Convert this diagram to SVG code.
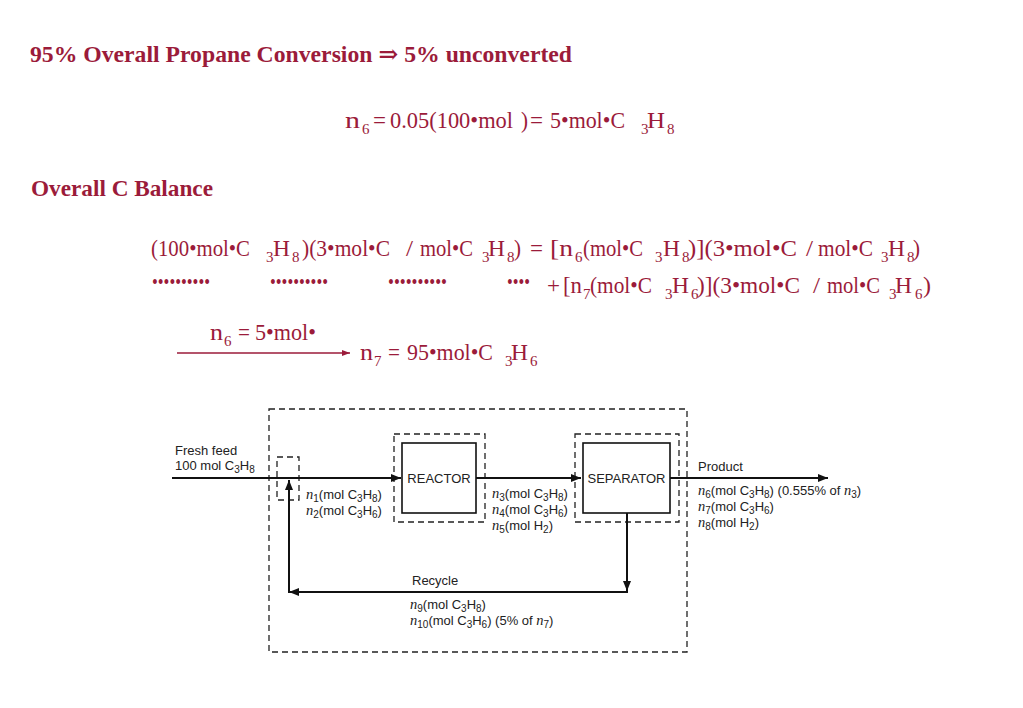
<svg xmlns="http://www.w3.org/2000/svg" width="1023" height="708" viewBox="0 0 1023 708">
<style>
.hd{font-family:"Liberation Serif","DejaVu Serif",serif;font-weight:bold;fill:#9b1b3a}
.eq{font-family:"Liberation Serif","DejaVu Serif",serif;font-size:24px;fill:#9b1b3a}
.sb{font-family:"Liberation Serif","DejaVu Serif",serif;font-size:15px;fill:#9b1b3a}
.dt{font-family:"Liberation Serif","DejaVu Serif",serif;font-size:20px;fill:#9b1b3a}
.lbl{font-family:"Liberation Sans",Arial,sans-serif;font-size:13px;fill:#222}
.it{font-family:"Liberation Serif",serif;font-style:italic;font-size:14.5px}
.s{font-size:10px}
.dash{fill:none;stroke:#222;stroke-width:1.3;stroke-dasharray:6 4}
.box{fill:#fff;stroke:#111;stroke-width:1.6}
.ln{fill:none;stroke:#111;stroke-width:2}
.arw{stroke:#9b1b3a;stroke-width:1.3;fill:none}
</style>
<defs>
<marker id="ah" markerUnits="userSpaceOnUse" markerWidth="10" markerHeight="8" refX="10" refY="4" orient="auto">
<path d="M0,0 L10,4 L0,8 z" fill="#111"/>
</marker>
<marker id="ahr" markerUnits="userSpaceOnUse" markerWidth="8" markerHeight="6" refX="8" refY="3" orient="auto">
<path d="M0,0 L8,3 L0,6 z" fill="#9b1b3a"/>
</marker>
</defs>
<rect width="1023" height="708" fill="#fff"/>

<g id="title">
<text class="hd" x="30" y="62" font-size="23.5" textLength="542" lengthAdjust="spacingAndGlyphs">95% Overall Propane Conversion ⇒ 5% unconverted</text>
</g>

<g id="eq-n6">
<text class="eq" x="345" y="128" textLength="15" lengthAdjust="spacingAndGlyphs">n</text>
<text class="sb" x="362" y="134">6</text>
<text class="eq" x="373" y="128" textLength="13" lengthAdjust="spacingAndGlyphs">=</text>
<text class="eq" x="390" y="128" textLength="123" lengthAdjust="spacingAndGlyphs">0.05(100•mol</text>
<text class="eq" x="521" y="128" textLength="7" lengthAdjust="spacingAndGlyphs">)</text>
<text class="eq" x="530" y="128" textLength="13" lengthAdjust="spacingAndGlyphs">=</text>
<text class="eq" x="550" y="128" textLength="75" lengthAdjust="spacingAndGlyphs">5•mol•C</text>
<text class="sb" x="641" y="134">3</text>
<text class="eq" x="647" y="128" textLength="18" lengthAdjust="spacingAndGlyphs">H</text>
<text class="sb" x="667" y="134">8</text>
</g>

<g id="heading-c">
<text class="hd" x="31" y="196" font-size="23" textLength="182" lengthAdjust="spacingAndGlyphs">Overall C Balance</text>
</g>

<g id="eq-balance-1">
<text class="eq" x="151" y="256" textLength="99" lengthAdjust="spacingAndGlyphs">(100•mol•C</text>
<text class="sb" x="266" y="262">3</text>
<text class="eq" x="273" y="256" textLength="17" lengthAdjust="spacingAndGlyphs">H</text>
<text class="sb" x="292" y="262">8</text>
<text class="eq" x="302" y="256" textLength="88" lengthAdjust="spacingAndGlyphs">)(3•mol•C</text>
<text class="eq" x="406" y="256" textLength="7" lengthAdjust="spacingAndGlyphs">/</text>
<text class="eq" x="420" y="256" textLength="53" lengthAdjust="spacingAndGlyphs">mol•C</text>
<text class="sb" x="482" y="262">3</text>
<text class="eq" x="488" y="256" textLength="17" lengthAdjust="spacingAndGlyphs">H</text>
<text class="sb" x="507" y="262">8</text>
<text class="eq" x="514" y="256" textLength="7" lengthAdjust="spacingAndGlyphs">)</text>
<text class="eq" x="530" y="256" textLength="13" lengthAdjust="spacingAndGlyphs">=</text>
<text class="eq" x="550" y="256" textLength="23" lengthAdjust="spacingAndGlyphs">[n</text>
<text class="sb" x="575" y="262">6</text>
<text class="eq" x="583" y="256" textLength="60" lengthAdjust="spacingAndGlyphs">(mol•C</text>
<text class="sb" x="655" y="262">3</text>
<text class="eq" x="663" y="256" textLength="17" lengthAdjust="spacingAndGlyphs">H</text>
<text class="sb" x="682" y="262">8</text>
<text class="eq" x="688" y="256" textLength="109" lengthAdjust="spacingAndGlyphs">)](3•mol•C</text>
<text class="eq" x="806" y="256" textLength="7" lengthAdjust="spacingAndGlyphs">/</text>
<text class="eq" x="818" y="256" textLength="55" lengthAdjust="spacingAndGlyphs">mol•C</text>
<text class="sb" x="881" y="262">3</text>
<text class="eq" x="888" y="256" textLength="17" lengthAdjust="spacingAndGlyphs">H</text>
<text class="sb" x="907" y="262">8</text>
<text class="eq" x="913" y="256" textLength="7" lengthAdjust="spacingAndGlyphs">)</text>
</g>

<g id="eq-balance-2">
<text class="dt" x="152" y="289" textLength="58" lengthAdjust="spacingAndGlyphs">••••••••••</text>
<text class="dt" x="270" y="289" textLength="58" lengthAdjust="spacingAndGlyphs">••••••••••</text>
<text class="dt" x="388" y="289" textLength="59" lengthAdjust="spacingAndGlyphs">••••••••••</text>
<text class="dt" x="507" y="289" textLength="23" lengthAdjust="spacingAndGlyphs">••••</text>
<text class="eq" x="547" y="293" textLength="13" lengthAdjust="spacingAndGlyphs">+</text>
<text class="eq" x="563" y="293" textLength="19" lengthAdjust="spacingAndGlyphs">[n</text>
<text class="sb" x="583" y="299">7</text>
<text class="eq" x="590" y="293" textLength="62" lengthAdjust="spacingAndGlyphs">(mol•C</text>
<text class="sb" x="665" y="299">3</text>
<text class="eq" x="672" y="293" textLength="17" lengthAdjust="spacingAndGlyphs">H</text>
<text class="sb" x="691" y="299">6</text>
<text class="eq" x="697" y="293" textLength="103" lengthAdjust="spacingAndGlyphs">)](3•mol•C</text>
<text class="eq" x="813" y="293" textLength="7" lengthAdjust="spacingAndGlyphs">/</text>
<text class="eq" x="827" y="293" textLength="53" lengthAdjust="spacingAndGlyphs">mol•C</text>
<text class="sb" x="889" y="299">3</text>
<text class="eq" x="895" y="293" textLength="17" lengthAdjust="spacingAndGlyphs">H</text>
<text class="sb" x="915" y="299">6</text>
<text class="eq" x="923" y="293" textLength="8" lengthAdjust="spacingAndGlyphs">)</text>
</g>

<g id="eq-result">
<text class="eq" x="210" y="340" textLength="13" lengthAdjust="spacingAndGlyphs">n</text>
<text class="sb" x="224" y="346">6</text>
<text class="eq" x="238" y="340" textLength="12" lengthAdjust="spacingAndGlyphs">=</text>
<text class="eq" x="255" y="340" textLength="61" lengthAdjust="spacingAndGlyphs">5•mol•</text>
<line class="arw" x1="177" y1="353" x2="350" y2="353" marker-end="url(#ahr)"/>
<text class="eq" x="360" y="360" textLength="13" lengthAdjust="spacingAndGlyphs">n</text>
<text class="sb" x="374" y="366">7</text>
<text class="eq" x="388" y="360" textLength="12" lengthAdjust="spacingAndGlyphs">=</text>
<text class="eq" x="407" y="360" textLength="86" lengthAdjust="spacingAndGlyphs">95•mol•C</text>
<text class="sb" x="505" y="366">3</text>
<text class="eq" x="511" y="360" textLength="17" lengthAdjust="spacingAndGlyphs">H</text>
<text class="sb" x="530" y="366">6</text>
</g>

<g id="overall-boundary">
<rect class="dash" x="269" y="409" width="418" height="243"/>
</g>

<g id="mixer">
<rect class="dash" x="277" y="457" width="22" height="43"/>
</g>

<g id="reactor">
<rect class="dash" x="394" y="434" width="91" height="88"/>
<rect class="box" x="402" y="443" width="74" height="70"/>
<text class="lbl" x="439" y="483" text-anchor="middle">REACTOR</text>
</g>

<g id="separator">
<rect class="dash" x="575" y="434" width="104" height="88"/>
<rect class="box" x="583" y="443" width="87" height="70"/>
<text class="lbl" x="626.5" y="483" text-anchor="middle">SEPARATOR</text>
</g>

<g id="connectors">
<line class="ln" x1="172" y1="478" x2="401" y2="478" marker-end="url(#ah)"/>
<line class="ln" x1="476" y1="478" x2="581" y2="478" marker-end="url(#ah)"/>
<line class="ln" x1="670" y1="478" x2="828" y2="478" marker-end="url(#ah)"/>
<line class="ln" x1="627" y1="513" x2="627" y2="591" marker-end="url(#ah)"/>
<line class="ln" x1="628" y1="592" x2="289" y2="592" marker-end="url(#ah)"/>
<line class="ln" x1="289" y1="593" x2="289" y2="480" marker-end="url(#ah)"/>
</g>

<g id="labels">
<text class="lbl" x="175" y="455">Fresh feed</text>
<text class="lbl" x="175" y="470">100 mol C<tspan class="s" dy="3">3</tspan><tspan dy="-3">H</tspan><tspan class="s" dy="3">8</tspan></text>
<text class="lbl" x="306" y="499"><tspan class="it">n</tspan><tspan class="s" dy="3">1</tspan><tspan dy="-3">(mol C</tspan><tspan class="s" dy="3">3</tspan><tspan dy="-3">H</tspan><tspan class="s" dy="3">8</tspan><tspan dy="-3">)</tspan></text>
<text class="lbl" x="306" y="515"><tspan class="it">n</tspan><tspan class="s" dy="3">2</tspan><tspan dy="-3">(mol C</tspan><tspan class="s" dy="3">3</tspan><tspan dy="-3">H</tspan><tspan class="s" dy="3">6</tspan><tspan dy="-3">)</tspan></text>
<text class="lbl" x="492" y="498"><tspan class="it">n</tspan><tspan class="s" dy="3">3</tspan><tspan dy="-3">(mol C</tspan><tspan class="s" dy="3">3</tspan><tspan dy="-3">H</tspan><tspan class="s" dy="3">8</tspan><tspan dy="-3">)</tspan></text>
<text class="lbl" x="492" y="514"><tspan class="it">n</tspan><tspan class="s" dy="3">4</tspan><tspan dy="-3">(mol C</tspan><tspan class="s" dy="3">3</tspan><tspan dy="-3">H</tspan><tspan class="s" dy="3">6</tspan><tspan dy="-3">)</tspan></text>
<text class="lbl" x="492" y="530"><tspan class="it">n</tspan><tspan class="s" dy="3">5</tspan><tspan dy="-3">(mol H</tspan><tspan class="s" dy="3">2</tspan><tspan dy="-3">)</tspan></text>
<text class="lbl" x="698" y="471">Product</text>
<text class="lbl" x="698" y="495"><tspan class="it">n</tspan><tspan class="s" dy="3">6</tspan><tspan dy="-3">(mol C</tspan><tspan class="s" dy="3">3</tspan><tspan dy="-3">H</tspan><tspan class="s" dy="3">8</tspan><tspan dy="-3">)  (0.555% of </tspan><tspan class="it">n</tspan><tspan class="s" dy="3">3</tspan><tspan dy="-3">)</tspan></text>
<text class="lbl" x="698" y="511"><tspan class="it">n</tspan><tspan class="s" dy="3">7</tspan><tspan dy="-3">(mol C</tspan><tspan class="s" dy="3">3</tspan><tspan dy="-3">H</tspan><tspan class="s" dy="3">6</tspan><tspan dy="-3">)</tspan></text>
<text class="lbl" x="698" y="527"><tspan class="it">n</tspan><tspan class="s" dy="3">8</tspan><tspan dy="-3">(mol H</tspan><tspan class="s" dy="3">2</tspan><tspan dy="-3">)</tspan></text>
<text class="lbl" x="412" y="585">Recycle</text>
<text class="lbl" x="410" y="609"><tspan class="it">n</tspan><tspan class="s" dy="3">9</tspan><tspan dy="-3">(mol C</tspan><tspan class="s" dy="3">3</tspan><tspan dy="-3">H</tspan><tspan class="s" dy="3">8</tspan><tspan dy="-3">)</tspan></text>
<text class="lbl" x="410" y="625"><tspan class="it">n</tspan><tspan class="s" dy="3">10</tspan><tspan dy="-3">(mol C</tspan><tspan class="s" dy="3">3</tspan><tspan dy="-3">H</tspan><tspan class="s" dy="3">6</tspan><tspan dy="-3">) (5% of </tspan><tspan class="it">n</tspan><tspan class="s" dy="3">7</tspan><tspan dy="-3">)</tspan></text>
</g>
</svg>
